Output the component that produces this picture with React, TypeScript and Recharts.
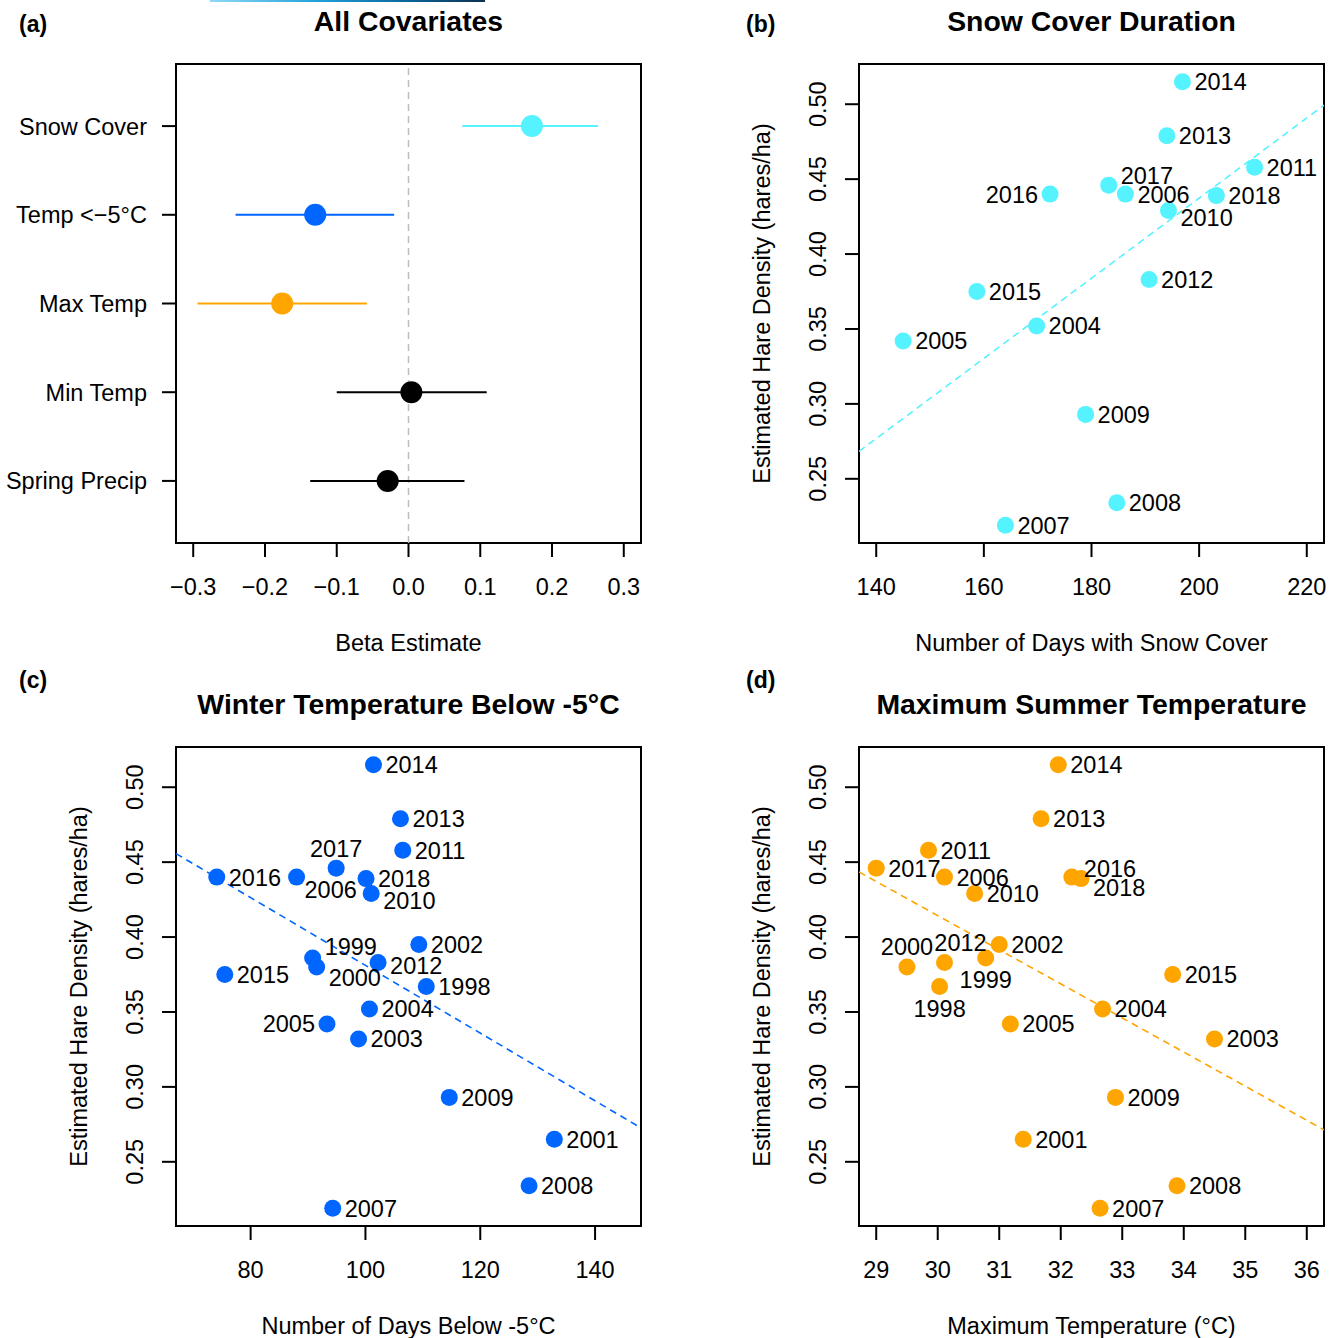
import React from "react";
import { ScatterChart, Scatter, XAxis, YAxis, ReferenceArea, ReferenceLine, ErrorBar } from "recharts";

const FONT = '"Liberation Sans", Arial, Helvetica, sans-serif';

// (a) coefficient estimates with intervals
const covariates = ["Snow Cover", "Temp <\u22125°C", "Max Temp", "Min Temp", "Spring Precip"];
const betaEst = [0.172, -0.130, -0.176, 0.004, -0.029];
const betaLow = [0.075, -0.241, -0.294, -0.100, -0.137];
const betaHigh = [0.264, -0.020, -0.058, 0.109, 0.078];
const covColors = ["#55F2FF", "#0066FF", "#FFA500", "#000000", "#000000"];
const betaTicks = [-0.3, -0.2, -0.1, 0, 0.1, 0.2, 0.3];

// yearly series
const years = ["1998", "1999", "2000", "2001", "2002", "2003", "2004", "2005", "2006", "2007", "2008",
  "2009", "2010", "2011", "2012", "2013", "2014", "2015", "2016", "2017", "2018"];
const hareDensity = [0.367, 0.386, 0.380, 0.265, 0.395, 0.332, 0.352, 0.342, 0.440, 0.219, 0.234,
  0.293, 0.429, 0.458, 0.383, 0.479, 0.515, 0.375, 0.440, 0.446, 0.439];
const winterDays = [110.6, 90.8, 91.5, 132.9, 109.3, 98.8, 100.7, 93.3, 88.0, 94.3, 128.5,
  114.6, 101.0, 106.5, 102.2, 106.1, 101.4, 75.5, 74.1, 94.9, 100.1];
const maxTemp = [30.03, 30.78, 29.50, 31.39, 31.00, 34.50, 32.68, 31.18, 30.11, 32.64, 33.89,
  32.89, 30.60, 29.85, 30.11, 31.68, 31.96, 33.82, 32.18, 29.00, 32.33];
// snow cover only recorded from 2004
const snowYears = ["2004", "2005", "2006", "2007", "2008", "2009", "2010", "2011", "2012", "2013",
  "2014", "2015", "2016", "2017", "2018"];
const snowDays = [169.8, 145.0, 186.3, 164.0, 184.7, 178.9, 194.3, 210.3, 190.7, 194.0,
  196.9, 158.7, 172.3, 183.2, 203.2];

const densityTicks = [0.25, 0.3, 0.35, 0.4, 0.45, 0.5];
const snowTicks = [140, 160, 180, 200, 220];
const winterTicks = [80, 100, 120, 140];
const tempTicks = [29, 30, 31, 32, 33, 34, 35, 36];

// label placement overrides (default: right of point)
type Place = [string, number, number];
const placeB: Record<string, Place> = { "2016": ["l", 0, 0], "2017": ["r", 0, -10], "2010": ["r", 0, 7] };
const placeC: Record<string, Place> = {
  "2017": ["t", 0, 0], "2005": ["l", 0, 0], "2006": ["r", -4, 12], "2010": ["r", 0, 7],
  "1999": ["r", 0, -11], "2000": ["r", 0, 11], "2012": ["r", 0, 3],
};
const placeD: Record<string, Place> = {
  "2016": ["r", 0, -9], "2018": ["r", 0, 9], "2000": ["t", 0, 0], "2012": ["t", 16, 0],
  "1999": ["b", 0, 0], "1998": ["b", 0, 0],
};

// R-style 4% axis extension
const rRange = (lo: number, hi: number): [number, number] => [lo - 0.04 * (hi - lo), hi + 0.04 * (hi - lo)];

function ols(xs: number[], ys: number[]) {
  const n = xs.length;
  const mx = xs.reduce((a, b) => a + b, 0) / n;
  const my = ys.reduce((a, b) => a + b, 0) / n;
  let sxy = 0, sxx = 0;
  xs.forEach((x, i) => { sxy += (x - mx) * (ys[i] - my); sxx += (x - mx) * (x - mx); });
  const b = sxy / sxx;
  return { a: my - b * mx, b };
}

const densDomain = rRange(Math.min(...hareDensity), Math.max(...hareDensity));

type Box = { l: number; t: number; r: number; b: number };
type Frame = { x: number; y: number; w: number; h: number };

const txt = { fontFamily: FONT, fill: "#000" };

const fmtMinus = (v: number) => (v < 0 ? "\u2212" : "") + Math.abs(v).toFixed(1);

function XTick(props: any) {
  const { x, y, payload, fmt } = props;
  return (
    <text x={x} y={y + 30} dy="0.36em" textAnchor="middle" fontSize={23.5} {...txt}>
      {fmt(payload.value)}
    </text>
  );
}

function YTickRot(props: any) {
  const { x, y, payload } = props;
  const cx = x - 27;
  return (
    <text x={cx} y={y} dy="0.36em" textAnchor="middle" fontSize={23.5} transform={`rotate(-90, ${cx}, ${y})`} {...txt}>
      {payload.value.toFixed(2)}
    </text>
  );
}

function YTickCat(props: any) {
  const { x, y, payload } = props;
  return (
    <text x={x - 15} y={y} dy="0.36em" textAnchor="end" fontSize={23.5} {...txt}>
      {covariates[5 - payload.value]}
    </text>
  );
}

function margins(frame: Frame, box: Box) {
  return {
    margin: { top: box.t - frame.y, right: frame.x + frame.w - box.r, bottom: 0, left: 0 },
    yw: box.l - frame.x,
    xh: frame.y + frame.h - box.b,
  };
}

function CoefPanel({ frame, box }: { frame: Frame; box: Box }) {
  const { margin, yw, xh } = margins(frame, box);
  const xd = rRange(-0.3, 0.3);
  const yd: [number, number] = [0.3, 5.7];
  return (
    <div style={{ position: "absolute", left: frame.x, top: frame.y }}>
      <ScatterChart width={frame.w} height={frame.h} margin={margin}>
        <XAxis type="number" dataKey="x" domain={xd} ticks={betaTicks} allowDataOverflow
          axisLine={false} tickSize={14} tickMargin={0} tickLine={{ stroke: "#000", strokeWidth: 2 }}
          height={xh} tick={<XTick fmt={fmtMinus} />} interval={0} />
        <YAxis type="number" dataKey="y" domain={yd} ticks={[1, 2, 3, 4, 5]} allowDataOverflow
          axisLine={false} tickSize={14} tickMargin={0} tickLine={{ stroke: "#000", strokeWidth: 2 }}
          width={yw} tick={<YTickCat />} interval={0} />
        <ReferenceLine x={0} stroke="#BDBDBD" strokeWidth={1.5} strokeDasharray="7 5" />
        {covariates.map((c, i) => (
          <Scatter key={c} isAnimationActive={false}
            data={[{ x: betaEst[i], y: 5 - i, err: [betaEst[i] - betaLow[i], betaHigh[i] - betaEst[i]] }]}
            shape={(p: any) => <circle cx={p.cx} cy={p.cy} r={11} fill={covColors[i]} />}>
            <ErrorBar dataKey="err" direction="x" width={0} stroke={covColors[i]} strokeWidth={2} />
          </Scatter>
        ))}
        <ReferenceArea x1={xd[0]} x2={xd[1]} y1={yd[0]} y2={yd[1]} fill="none" fillOpacity={0}
          stroke="#000" strokeWidth={2} ifOverflow="visible" />
      </ScatterChart>
    </div>
  );
}

function labelShape(places: Record<string, Place>) {
  return (p: any) => {
    const [side, dx, dy] = places[p.payload.year] ?? ["r", 0, 0];
    let x = p.cx, y = p.cy, anchor = "start";
    if (side === "r") x += 12;
    else if (side === "l") { x -= 12; anchor = "end"; }
    else if (side === "t") { y -= 20; anchor = "middle"; }
    else { y += 22; anchor = "middle"; }
    return (
      <text x={x + dx} y={y + dy} dy="0.36em" textAnchor={anchor as any} fontSize={23.5} {...txt}>
        {p.payload.year}
      </text>
    );
  };
}

function ScatterPanel(props: {
  frame: Frame; box: Box; xs: number[]; ys: number[]; labels: string[];
  xd: [number, number]; xTicks: number[]; color: string; places: Record<string, Place>;
}) {
  const { frame, box, xs, ys, labels, xd, xTicks, color, places } = props;
  const { margin, yw, xh } = margins(frame, box);
  const yd = densDomain;
  const data = xs.map((x, i) => ({ x, y: ys[i], year: labels[i] }));
  const fit = ols(xs, ys);
  return (
    <div style={{ position: "absolute", left: frame.x, top: frame.y }}>
      <ScatterChart width={frame.w} height={frame.h} margin={margin}>
        <XAxis type="number" dataKey="x" domain={xd} ticks={xTicks} allowDataOverflow
          axisLine={false} tickSize={14} tickMargin={0} tickLine={{ stroke: "#000", strokeWidth: 2 }}
          height={xh} tick={<XTick fmt={(v: number) => String(v)} />} interval={0} />
        <YAxis type="number" dataKey="y" domain={yd} ticks={densityTicks} allowDataOverflow
          axisLine={false} tickSize={14} tickMargin={0} tickLine={{ stroke: "#000", strokeWidth: 2 }}
          width={yw} tick={<YTickRot />} interval={0} />
        <ReferenceLine ifOverflow="hidden" stroke={color} strokeWidth={1.6} strokeDasharray="7 5"
          segment={[{ x: xd[0], y: fit.a + fit.b * xd[0] }, { x: xd[1], y: fit.a + fit.b * xd[1] }]} />
        <Scatter data={data} isAnimationActive={false}
          shape={(p: any) => <circle cx={p.cx} cy={p.cy} r={8.5} fill={color} />} />
        <Scatter data={data} isAnimationActive={false} shape={labelShape(places)} />
        <ReferenceArea x1={xd[0]} x2={xd[1]} y1={yd[0]} y2={yd[1]} fill="none" fillOpacity={0}
          stroke="#000" strokeWidth={2} ifOverflow="visible" />
      </ScatterChart>
    </div>
  );
}

const frames = {
  a: { x: 0, y: 0, w: 670, h: 670 },
  b: { x: 670, y: 0, w: 671, h: 670 },
  c: { x: 0, y: 670, w: 670, h: 668 },
  d: { x: 670, y: 670, w: 671, h: 668 },
};
const boxes = {
  a: { l: 176, t: 64, r: 641, b: 543 },
  b: { l: 859, t: 64, r: 1324, b: 543 },
  c: { l: 176, t: 747, r: 641, b: 1226 },
  d: { l: 859, t: 747, r: 1324, b: 1226 },
};

const panelText = [
  { k: "a", tag: "(a)", tagY: 24, title: "All Covariates", xl: "Beta Estimate", yl: "" },
  { k: "b", tag: "(b)", tagY: 24, title: "Snow Cover Duration", xl: "Number of Days with Snow Cover", yl: "Estimated Hare Density (hares/ha)" },
  { k: "c", tag: "(c)", tagY: 680, title: "Winter Temperature Below -5°C", xl: "Number of Days Below -5°C", yl: "Estimated Hare Density (hares/ha)" },
  { k: "d", tag: "(d)", tagY: 680, title: "Maximum Summer Temperature", xl: "Maximum Temperature (°C)", yl: "Estimated Hare Density (hares/ha)" },
];

export default function App() {
  const snowD = snowYears.map((y) => hareDensity[years.indexOf(y)]);
  return (
    <div style={{ position: "absolute", left: 0, top: 0, width: 1341, height: 1338, background: "#fff" }}>
      <div style={{ position: "absolute", left: 210, top: 0, width: 275, height: 2,
        background: "linear-gradient(to right, #8fd9f7, #1f9fd8 40%, #0b6599 72%, #0c2f4f)" }} />
      <CoefPanel frame={frames.a} box={boxes.a} />
      <ScatterPanel frame={frames.b} box={boxes.b} xs={snowDays} ys={snowD} labels={snowYears}
        xd={rRange(140, 220)} xTicks={snowTicks} color="#55F2FF" places={placeB} />
      <ScatterPanel frame={frames.c} box={boxes.c} xs={winterDays} ys={hareDensity} labels={years}
        xd={rRange(70, 145)} xTicks={winterTicks} color="#0066FF" places={placeC} />
      <ScatterPanel frame={frames.d} box={boxes.d} xs={maxTemp} ys={hareDensity} labels={years}
        xd={rRange(29, 36)} xTicks={tempTicks} color="#FFA500" places={placeD} />
      <svg width={1341} height={1338} style={{ position: "absolute", left: 0, top: 0, pointerEvents: "none" }}>
        {panelText.map((p) => {
          const bx = (boxes as any)[p.k] as Box;
          const cx = (bx.l + bx.r) / 2;
          const cy = (bx.t + bx.b) / 2;
          const tagX = bx.l < 400 ? 19 : 746;
          return (
            <g key={p.k}>
              <text x={tagX} y={p.tagY} dy="0.36em" fontSize={23} fontWeight="bold" {...txt}>{p.tag}</text>
              <text x={cx} y={bx.t - 43} dy="0.36em" textAnchor="middle" fontSize={28.4} fontWeight="bold" {...txt}>{p.title}</text>
              <text x={cx} y={bx.b + 100} dy="0.36em" textAnchor="middle" fontSize={23.5} {...txt}>{p.xl}</text>
              {p.yl && (
                <text x={bx.l - 97} y={cy} dy="0.36em" textAnchor="middle" fontSize={23.5}
                  transform={`rotate(-90, ${bx.l - 97}, ${cy})`} {...txt}>{p.yl}</text>
              )}
            </g>
          );
        })}
      </svg>
    </div>
  );
}
